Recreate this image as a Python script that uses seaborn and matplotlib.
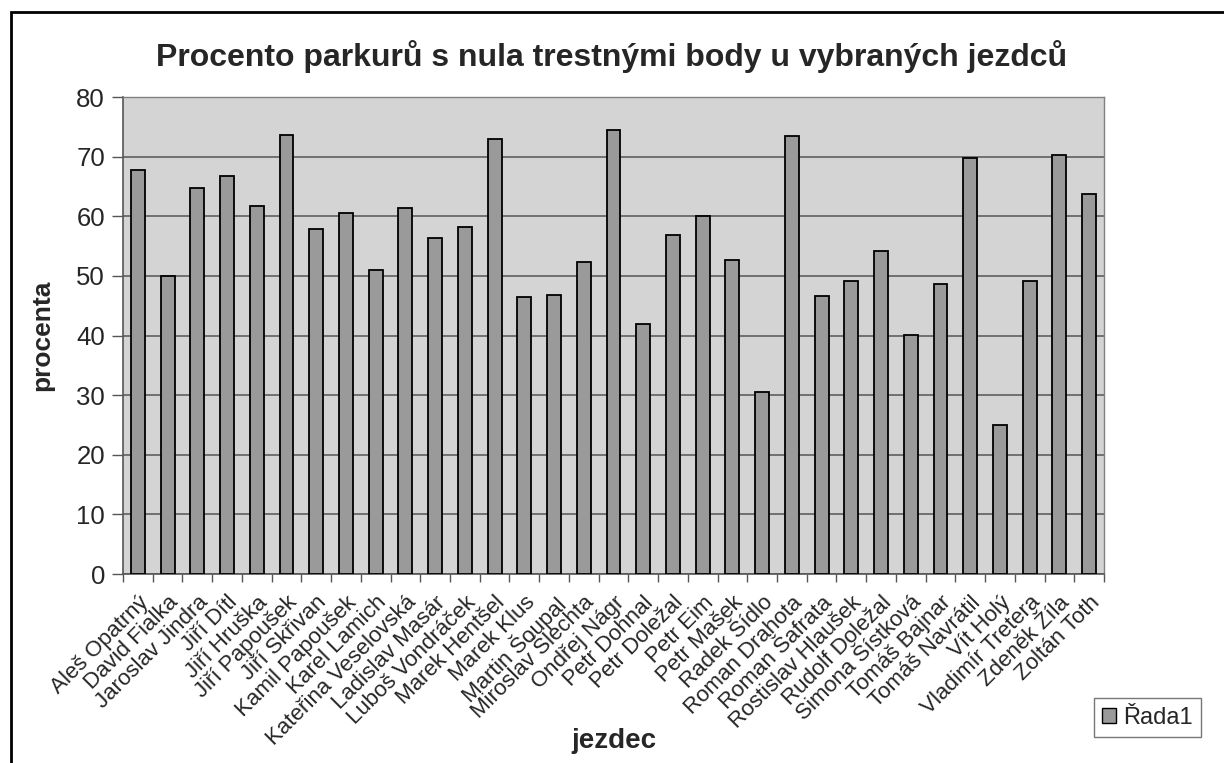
import matplotlib
matplotlib.use("Agg")
import matplotlib.pyplot as plt
import matplotlib.patches as mpatches
import numpy as np
import pandas as pd
import seaborn as sns

riders = ["Aleš Opatrný", "David Fialka", "Jaroslav Jindra", "Jiří Dítl", "Jiří Hruška",
          "Jiří Papoušek", "Jiří Skřivan", "Kamil Papoušek", "Karel Lamich",
          "Kateřina Veselovská", "Ladislav Masár", "Luboš Vondráček", "Marek Hentšel",
          "Marek Klus", "Martin Šoupal", "Miroslav Šlechta", "Ondřej Nágr", "Petr Dohnal",
          "Petr Doležal", "Petr Eim", "Petr Mašek", "Radek Šídlo", "Roman Drahota",
          "Roman Šafrata", "Rostislav Hlaušek", "Rudolf Doležal", "Simona Šístková",
          "Tomáš Bajnar", "Tomáš Navrátil", "Vít Holý", "Vladimír Tretera", "Zdeněk Žíla",
          "Zoltán Toth"]
percent = [67.7, 50.0, 64.7, 66.8, 61.8, 73.7, 57.9, 60.6, 51.0, 61.3, 56.3, 58.2, 72.9,
           46.4, 46.8, 52.4, 74.4, 42.0, 56.8, 60.1, 52.6, 30.6, 73.5, 46.6, 49.2, 54.2,
           40.1, 48.7, 69.8, 25.0, 49.1, 70.3, 63.8]
series_name = "Řada1"
yticks = [0, 10, 20, 30, 40, 50, 60, 70, 80]

df = pd.DataFrame({"jezdec": riders, "procenta": percent})

sns.set_style("white")
plt.rcParams["font.family"] = ["Liberation Sans", "DejaVu Sans"]

fig = plt.figure(figsize=(12.24, 7.63), dpi=100)
ax = fig.add_axes([123 / 1224, 1 - 574 / 763, (1104 - 123) / 1224, (574 - 97) / 763])

ax.set_facecolor("#d4d4d4")
sns.barplot(data=df, x="jezdec", y="procenta", color="#9a9a9a", edgecolor="black",
            linewidth=1.3, width=0.47, saturation=1, ax=ax, zorder=3)

ax.set_ylim(0, 80)
ax.set_xlim(-0.5, len(riders) - 0.5)
ax.set_yticks(yticks)
ax.yaxis.grid(True, color="#555555", linewidth=1.1, zorder=1)
ax.set_axisbelow(True)
ax.tick_params(axis="y", labelsize=18.5, length=8, width=1, color="#555555", direction="out", pad=5, left=True)
ax.set_xticks(range(len(riders)))
ax.set_xticklabels(riders, rotation=45, ha="right", rotation_mode="anchor", fontsize=16)
ax.tick_params(axis="x", length=0, pad=13)
ax.set_xticks(np.arange(-0.5, len(riders), 1), minor=True)
ax.tick_params(axis="x", which="minor", length=6, width=1, color="#555555", direction="out", bottom=True)

for side in ["top", "right"]:
    ax.spines[side].set_color("#808080")
    ax.spines[side].set_linewidth(1)
for side in ["left", "bottom"]:
    ax.spines[side].set_color("#555555")
    ax.spines[side].set_linewidth(1.2)

ax.set_xlabel("jezdec", fontsize=20, fontweight="bold")
ax.xaxis.set_label_coords(0.5, -0.322)
ax.set_ylabel("procenta", fontsize=19, fontweight="bold")
ax.yaxis.set_label_coords(-0.07, 0.5)

fig.text(0.5, 1 - 57 / 763, "Procento parkurů s nula trestnými body u vybraných jezdců",
         ha="center", va="center", fontsize=23, fontweight="bold")

handle = mpatches.Patch(facecolor="#9a9a9a", edgecolor="black", linewidth=1, label=series_name)
fig.legend(handles=[handle], loc="lower right", bbox_to_anchor=(1201 / 1224, 1 - 737 / 763),
           borderaxespad=0, fontsize=17, frameon=True, fancybox=False, edgecolor="#555555",
           handlelength=0.6, handleheight=0.6, handletextpad=0.3, borderpad=0.35)

border = mpatches.Rectangle((11 / 1224, -0.05), 1.2, 1 - 12 / 763 + 0.05, transform=fig.transFigure,
                            fill=False, edgecolor="black", linewidth=2)
fig.patches.append(border)

fig.savefig("out.png", dpi=100)
